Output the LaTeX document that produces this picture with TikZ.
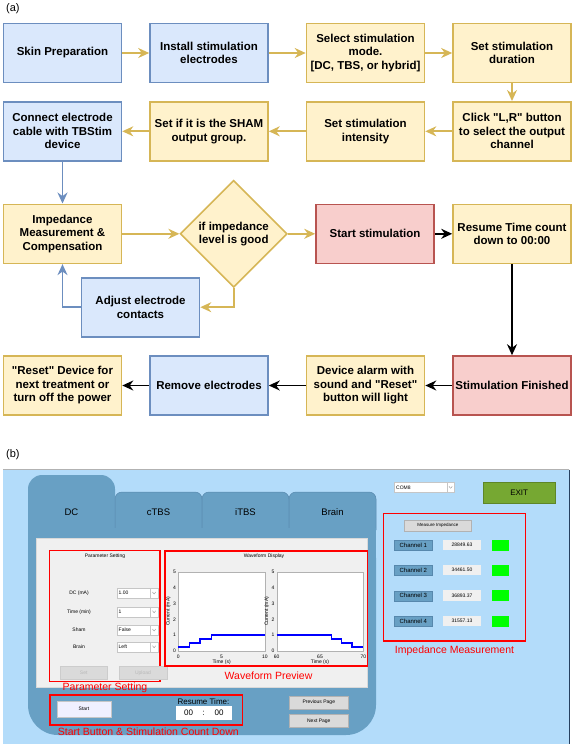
\documentclass[tikz,border=0pt]{standalone}
\usepackage{fontspec}
\setmainfont{Liberation Sans}[Ligatures=TeXOff]
\usepackage{tikz}
\usetikzlibrary{arrows.meta}
\usetikzlibrary{calc}
\usetikzlibrary{shapes.geometric}

\definecolor{fillblue}{HTML}{DAE8FC}
\definecolor{lineblue}{HTML}{6C8EBF}
\definecolor{fillyellow}{HTML}{FFF2CC}
\definecolor{lineyellow}{HTML}{D6B656}
\definecolor{fillred}{HTML}{F8CECC}
\definecolor{linered}{HTML}{B85450}
\definecolor{guisky}{HTML}{B3DCFA}
\definecolor{guitab}{HTML}{68A0C4}
\definecolor{guitabline}{HTML}{5788AD}
\definecolor{guipanel}{HTML}{F0F0F0}
\definecolor{guibutton}{HTML}{DADADA}
\definecolor{guigreen}{HTML}{76A832}
\definecolor{ledgreen}{HTML}{00FF00}
\definecolor{markred}{HTML}{FF0000}
\definecolor{framenavy}{HTML}{27405F}

\begin{document}
\begin{tikzpicture}[x=1pt, y=-1pt, >={Stealth[length=11pt,width=10pt]},
    flow/.style={draw, line width=1.6pt, minimum width=118pt, minimum height=59pt, inner sep=1pt, align=center, font=\fontsize{11.5}{13.5}\selectfont\bfseries},
    bluebox/.style={flow, fill=fillblue, draw=lineblue},
    yellowbox/.style={flow, fill=fillyellow, draw=lineyellow},
    redbox/.style={flow, fill=fillred, draw=linered},
    decision/.style={diamond, draw=lineyellow, fill=fillyellow, line width=1.6pt, minimum width=107pt, minimum height=107pt, inner sep=0pt, align=center, font=\fontsize{11.5}{13.5}\selectfont\bfseries},
    goldarrow/.style={->, line width=1.7pt, lineyellow},
    bluearrow/.style={->, line width=1.7pt, lineblue},
    blackarrow/.style={->, line width=1.7pt, black},
    guitext/.style={font=\fontsize{5}{6}\selectfont, inner sep=0pt},
    guibtn/.style={guitext, draw=gray!60, fill=guibutton},
    redmark/.style={draw=markred, line width=1.5pt},
    redlabel/.style={text=markred, font=\fontsize{10.5}{12}\selectfont, inner sep=0pt},
    tablabel/.style={font=\fontsize{9.5}{11}\selectfont, inner sep=0pt}]

    % Fix the page size
    \useasboundingbox (0,0) rectangle (575,748);

    % Part (a): the flow chart
    \node[font=\fontsize{11}{13}\selectfont, anchor=west, inner sep=0pt] (parta) at (6,8.5) {(a)};

    % First row
    \node[bluebox] (skin) at (62.5,53) {Skin Preparation};
    \node[bluebox] (install) at (209,53) {Install stimulation\\electrodes};
    \node[yellowbox] (mode) at (365.5,53) {Select stimulation\\mode.\\{[}DC, TBS, or hybrid{]}};
    \node[yellowbox] (duration) at (512,53) {Set stimulation\\duration};

    % Second row
    \node[yellowbox] (channel) at (512,131.3) {Click "L,R" button\\to select the output\\channel};
    \node[yellowbox] (intensity) at (365.5,131.3) {Set stimulation\\intensity};
    \node[yellowbox] (sham) at (209,131.3) {Set if it is the SHAM\\output group.};
    \node[bluebox] (cable) at (62.5,131.3) {Connect electrode\\cable with TBStim\\device};

    % Third row and the loop back
    \node[yellowbox] (imped) at (62.5,233.8) {Impedance\\Measurement \&\\Compensation};
    \node[decision] (check) at (233.7,233.8) {if impedance\\level is good};
    \node[redbox] (start) at (375,233.8) {Start stimulation};
    \node[yellowbox] (resume) at (512,233.8) {Resume Time count\\down to 00:00};
    \node[bluebox] (adjust) at (140.5,307.2) {Adjust electrode\\contacts};

    % Last row
    \node[redbox] (finish) at (512,385.5) {Stimulation Finished};
    \node[yellowbox] (alarm) at (365.5,385.5) {Device alarm with\\sound and "Reset"\\button will light};
    \node[bluebox] (remove) at (209,385.5) {Remove electrodes};
    \node[yellowbox] (reset) at (62.5,385.5) {"Reset" Device for\\next treatment or\\turn off the power};

    % Connectors
    \draw[goldarrow] (skin) -- (install);
    \draw[goldarrow] (install) -- (mode);
    \draw[goldarrow] (mode) -- (duration);
    \draw[goldarrow] (duration) -- (channel);
    \draw[goldarrow] (channel) -- (intensity);
    \draw[goldarrow] (intensity) -- (sham);
    \draw[goldarrow] (sham) -- (cable);
    \draw[bluearrow] (cable) -- (imped);
    \draw[goldarrow] (imped) -- (check);
    \draw[goldarrow] (check) -- (start);
    \draw[goldarrow] (check.south) |- (adjust.east);
    \draw[bluearrow] (adjust.west) -| (imped.south);
    \draw[blackarrow] (start) -- (resume);
    \draw[blackarrow] (resume) -- (finish);
    \draw[blackarrow] (finish) -- (alarm);
    \draw[blackarrow] (alarm) -- (remove);
    \draw[blackarrow] (remove) -- (reset);

    % Part (b): the control window
    \node[font=\fontsize{11}{13}\selectfont, anchor=west, inner sep=0pt] (partb) at (6,455) {(b)};
    \fill[guisky] (3,469.5) rectangle (569,744);
    \draw[gray!60] (3,469.5) -- (569,469.5);
    \draw[framenavy, line width=0.8pt] (569,469.5) -- (569,744);

    % Tabs
    \fill[guitab, rounded corners=14pt] (28,475) rectangle (115,560);
    \foreach \x in {115,202,289}
        \filldraw[fill=guitab, draw=guitabline, line width=0.5pt, rounded corners=7pt] (\x,530) -- (\x,492) -- ({\x+87},492) -- ({\x+87},530);
    \fill[guitab, rounded corners=30pt] (28,528) rectangle (376,735);
    \fill[guitab] (28,528) rectangle (376,560);
    \node[tablabel] (tabdc) at (71.5,512.5) {DC};
    \node[tablabel] (tabctbs) at (158.5,512.5) {cTBS};
    \node[tablabel] (tabitbs) at (245.5,512.5) {iTBS};
    \node[tablabel] (tabbrain) at (332.5,512.5) {Brain};

    % Settings panel
    \filldraw[fill=guipanel, draw=gray!30] (36,538) rectangle (367,687);

    % Parameter setting
    \draw[redmark] (49.3,550.7) rectangle (160,681.7);
    \node[guitext] (partitle) at (105,556.5) {Parameter Setting};
    \foreach \lab/\val/\y/\n in {DC (mA)/1.00/593/dc, Time (min)/1/611.7/time, Sham/False/630/sham, Brain/Left/646.7/brain} {
        \node[guitext] (lab\n) at (79,\y) {\lab};
        \filldraw[fill=white, draw=gray!45] (116.7,\y-5) rectangle (157.7,\y+5);
        \draw[gray!45] (150.5,\y-5) -- (150.5,\y+5);
        \draw[gray!80, line width=0.4pt] (152.4,\y-1) -- (154.1,\y+1) -- (155.8,\y-1);
        \node[guitext, anchor=west] (val\n) at (118.5,\y) {\val};
    }
    \node[guibtn, draw=gray!40, text=gray!55, minimum width=47.3pt, minimum height=13.3pt] (setbtn) at (83.7,672.7) {Set};
    \node[guibtn, draw=gray!40, text=gray!55, minimum width=47.4pt, minimum height=13.3pt] (uploadbtn) at (143,672.7) {Upload};
    \node[redlabel] (parlabel) at (105,687.8) {Parameter Setting};

    % Waveform display
    \draw[redmark] (165,551) rectangle (367.3,666);
    \node[guitext] (wavetitle) at (264,556.5) {Waveform Display};
    \foreach \px/\lo/\mid/\hi/\n in {178.3/0/5/10/a, 276.7/60/65/70/b} {
        \begin{scope}[shift={(\px,651)}, x=8.66pt, y=15.86pt]
            \filldraw[fill=white, draw=gray!60] (0,0) rectangle (10,5);
            \foreach \v in {0,...,5}
                \node[guitext, anchor=east] (tick\n\v) at (-0.25,\v) {\v};
            \node[guitext] (low\n) at (0,-0.35) {\lo};
            \node[guitext] (mid\n) at (5,-0.35) {\mid};
            \node[guitext] (high\n) at (10,-0.35) {\hi};
            \node[guitext] (xlabel\n) at (5,-0.72) {Time (s)};
            \node[guitext, rotate=90] (ylabel\n) at (-1.15,2.5) {Current (mA)};
        \end{scope}
    }
    \begin{scope}[shift={(178.3,651)}, x=8.66pt, y=15.86pt]
        \draw[blue, line width=1.3pt] (0,0.25) -- (1.3,0.25) -- (1.3,0.5) -- (2.5,0.5) -- (2.5,0.75) -- (3.8,0.75) -- (3.8,1) -- (10,1);
    \end{scope}
    \begin{scope}[shift={(276.7,651)}, x=8.66pt, y=15.86pt]
        \draw[blue, line width=1.3pt] (0,1) -- (6.3,1) -- (6.3,0.75) -- (7.5,0.75) -- (7.5,0.5) -- (8.7,0.5) -- (8.7,0.25) -- (10,0.25);
    \end{scope}
    \node[redlabel] (wavelabel) at (268.5,675.5) {Waveform Preview};

    % Start and count down
    \draw[redmark] (50,695) rectangle (242.7,725);
    \node[guitext, draw=gray!45, fill=blue!6, minimum width=54pt, minimum height=16pt] (startbtn) at (84,709) {Start};
    \node[font=\fontsize{8}{10}\selectfont, inner sep=0pt] (resumelab) at (203.5,701.5) {Resume Time:};
    \node[fill=white, minimum width=56.7pt, minimum height=14pt, inner sep=0pt] (timebox) at (204,713) {};
    \node[font=\fontsize{8}{10}\selectfont, inner sep=0pt] (minutes) at (188.5,713) {00};
    \node[font=\fontsize{8}{10}\selectfont, inner sep=0pt] (colon) at (203.5,713) {:};
    \node[font=\fontsize{8}{10}\selectfont, inner sep=0pt] (seconds) at (219,713) {00};
    \node[redlabel] (startlabel) at (148.3,732) {Start Button \& Stimulation Count Down};

    % Page buttons
    \node[guibtn, minimum width=59pt, minimum height=13.6pt] (prevbtn) at (318.8,702.5) {Previous Page};
    \node[guibtn, minimum width=59pt, minimum height=13.6pt] (nextbtn) at (318.8,720.8) {Next Page};

    % Port list and exit
    \filldraw[fill=white, draw=gray!45] (394.3,482.3) rectangle (454.3,492.3);
    \draw[gray!45] (447,482.3) -- (447,492.3);
    \draw[gray!80, line width=0.4pt] (448.9,486.3) -- (450.6,488.3) -- (452.3,486.3);
    \node[guitext, anchor=west] (port) at (396,487.3) {COM8};
    \node[draw=guigreen!80!black, fill=guigreen, minimum width=71.7pt, minimum height=21.6pt, inner sep=0pt, font=\fontsize{8}{10}\selectfont] (exitbtn) at (519.2,492.5) {EXIT};

    % Impedance measurement
    \draw[redmark] (383.3,513.3) rectangle (525.7,641);
    \node[guibtn, font=\fontsize{4.5}{5.5}\selectfont, minimum width=67.7pt, minimum height=11.7pt] (measbtn) at (437.8,525.8) {Measure Impedance};
    \foreach \c/\y/\val in {1/545/28849.63, 2/570/34461.50, 3/595.7/36893.37, 4/621/31557.13} {
        \node[fill=guitab, draw=guitabline, line width=0.4pt, minimum width=38pt, minimum height=10pt, inner sep=0pt, font=\fontsize{6}{7}\selectfont] (chan\c) at (413.3,\y) {Channel \c};
        \node[guitext, fill=guipanel, minimum width=37.4pt, minimum height=10.5pt] (value\c) at (462,\y) {\val};
        \node[fill=ledgreen, minimum width=17.3pt, minimum height=11pt, inner sep=0pt] (led\c) at (500.3,\y) {};
    }
    \node[redlabel] (implabel) at (454.5,650.5) {Impedance Measurement};
\end{tikzpicture}
\end{document}
